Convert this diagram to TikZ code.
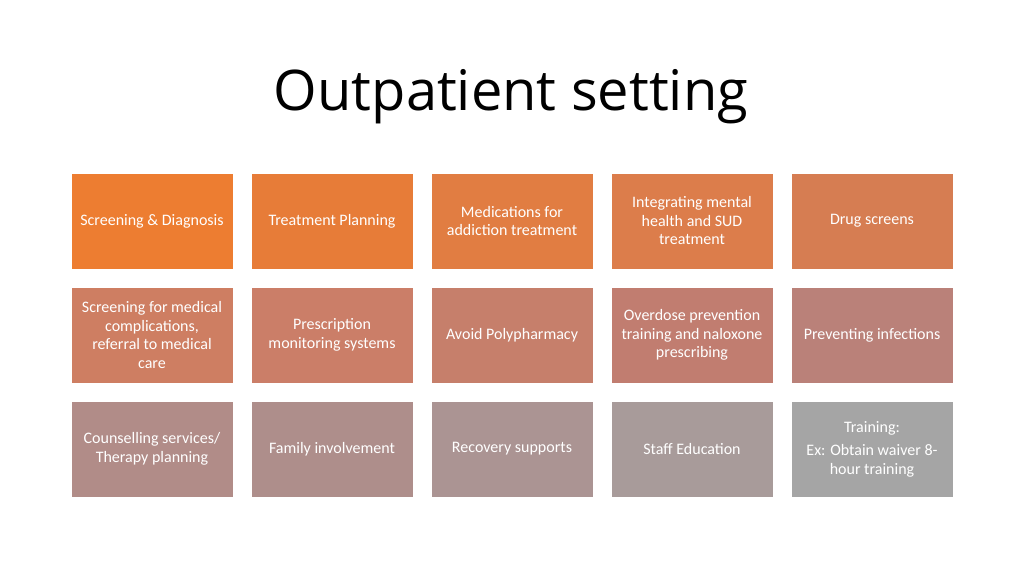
\documentclass[tikz,border=0pt]{standalone}
\usepackage{fontspec}
\setmainfont{Carlito}
\newfontfamily\titlefont{Open Sans}
\begin{document}
\begin{tikzpicture}[x=1pt,y=-1pt,
  cell/.style={draw=white,line width=0.8pt,minimum width=162pt,minimum height=96pt,inner sep=0pt,
    text=white,align=center,font=\fontsize{16}{18.5}\selectfont}]
\useasboundingbox (0,0) rectangle (1024,575);
\node[font=\titlefont\fontsize{56}{60}\selectfont] (title) at (511,97) {Outpatient setting};
\def\cellat#1#2#3#4#5{%
  \definecolor{cc}{HTML}{#4}%
  \node[cell,fill=cc] (#3) at ({152+#1*180},{221+#2*114}) {#5};}
\cellat{0}{0}{a1}{ED7D31}{Screening \& Diagnosis}
\cellat{1}{0}{a2}{E77C38}{Treatment Planning}
\cellat{2}{0}{a3}{E17D42}{Medications for\\addiction treatment}
\cellat{3}{0}{a4}{DC7D4B}{Integrating mental\\health and SUD\\treatment}
\cellat{4}{0}{a5}{D67D52}{Drug screens}
\cellat{0}{1}{b1}{CE7E62}{Screening for medical\\complications,\\referral to medical\\care}
\cellat{1}{1}{b2}{CB7E68}{Prescription\\monitoring systems}
\cellat{2}{1}{b3}{C67F6B}{Avoid Polypharmacy}
\cellat{3}{1}{b4}{C17D70}{Overdose prevention\\training and naloxone\\prescribing}
\cellat{4}{1}{b5}{BA8179}{Preventing infections}
\cellat{0}{2}{c1}{B18C88}{Counselling services/\\Therapy planning}
\cellat{1}{2}{c2}{AE8E8B}{Family involvement}
\cellat{2}{2}{c3}{AB9493}{Recovery supports}
\cellat{3}{2}{c4}{A89B9A}{Staff Education}
\cellat{4}{2}{c5}{A5A5A5}{Training:\\[5pt]Ex: Obtain waiver 8-\\hour training}
\end{tikzpicture}
\end{document}
